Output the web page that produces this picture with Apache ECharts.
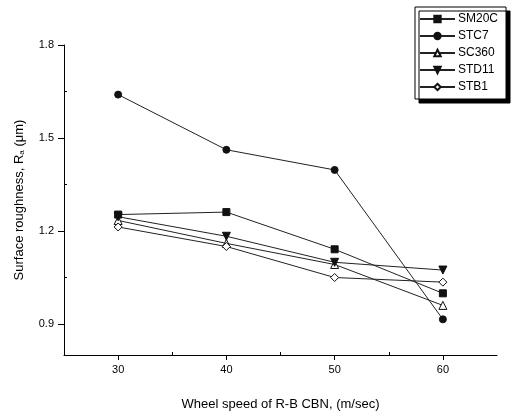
<!DOCTYPE html>
<html>
<head>
<meta charset="utf-8">
<script src="https://cdn.jsdelivr.net/npm/echarts@6/dist/echarts.min.js"></script>
<style>html,body{margin:0;padding:0;background:#fff}#c{width:511px;height:416px}</style>
</head>
<body>
<div id="c"></div>
<script>
var speeds = [30, 40, 50, 60];
var sm20c = [1.253, 1.261, 1.141, 0.999];
var stc7  = [1.640, 1.462, 1.397, 0.915];
var sc360 = [1.234, 1.160, 1.092, 0.960];
var std11 = [1.246, 1.183, 1.099, 1.074];
var stb1  = [1.213, 1.150, 1.050, 1.035];
var seriesNames = ['SM20C', 'STC7', 'SC360', 'STD11', 'STB1'];
var xLabels = [30, 40, 50, 60];
var xMinor = [35, 45, 55];
var yLabels = [0.9, 1.2, 1.5, 1.8];
var yMinor = [1.05, 1.35, 1.65];

function pairs(v) { return speeds.map(function (s, i) { return [s, v[i]]; }); }
var FONT = 'Liberation Sans, Arial, sans-serif';
var invTri = 'path://M0,0 L10,0 L5,9 Z';
var defs = [
  {name: seriesNames[0], data: sm20c, symbol: 'rect', fill: '#111', size: 7},
  {name: seriesNames[1], data: stc7, symbol: 'circle', fill: '#111', size: 7},
  {name: seriesNames[2], data: sc360, symbol: 'triangle', fill: '#fff', size: 8},
  {name: seriesNames[3], data: std11, symbol: invTri, fill: '#111', size: 8},
  {name: seriesNames[4], data: stb1, symbol: 'diamond', fill: '#fff', size: 8}
];
var series = defs.map(function (d) {
  return {
    name: d.name, type: 'line', data: pairs(d.data),
    symbol: d.symbol, symbolSize: d.size,
    lineStyle: {color: '#222', width: 1},
    itemStyle: {color: d.fill, borderColor: '#111', borderWidth: 1},
    xAxisIndex: 0, yAxisIndex: 0, animation: false
  };
});

var chart = echarts.init(document.getElementById('c'));
chart.setOption({
  backgroundColor: '#fff',
  animation: false,
  textStyle: {fontFamily: FONT},
  grid: {left: 64, right: 14, top: 45, bottom: 58},
  legend: {
    orient: 'vertical', left: 415, top: 7,
    data: seriesNames,
    itemWidth: 35, itemHeight: 8, itemGap: 5,
    padding: [6, 8, 6, 4],
    backgroundColor: '#fff', borderColor: '#000', borderWidth: 1,
    shadowColor: '#000', shadowBlur: 0, shadowOffsetX: 4, shadowOffsetY: 4,
    textStyle: {fontSize: 12, color: '#000', fontFamily: FONT, padding: [0, 0, 0, -2]}
  },
  xAxis: [{
    type: 'value', min: 25, max: 65,
    axisLine: {lineStyle: {color: '#000', width: 1}},
    axisTick: {show: true, customValues: xLabels, length: 5, lineStyle: {color: '#000'}},
    axisLabel: {customValues: xLabels, color: '#000', fontSize: 11, margin: 9, fontFamily: FONT},
    splitLine: {show: false},
    name: 'Wheel speed of R-B CBN, (m/sec)', nameLocation: 'middle', nameGap: 43,
    nameTextStyle: {fontSize: 13, color: '#000', fontFamily: FONT}
  }, {
    type: 'value', min: 25, max: 65, position: 'bottom',
    axisLine: {show: false},
    axisTick: {show: true, inside: true, customValues: xMinor, length: 3, lineStyle: {color: '#000'}},
    axisLabel: {show: false}, splitLine: {show: false}
  }],
  yAxis: [{
    type: 'value', min: 0.8, max: 1.8,
    axisLine: {show: true, lineStyle: {color: '#000', width: 1}},
    axisTick: {show: true, customValues: yLabels, length: 6, lineStyle: {color: '#000'}},
    axisLabel: {customValues: yLabels, color: '#000', fontSize: 11, margin: 10, fontFamily: FONT,
      formatter: function (v) { return v.toFixed(1); }},
    splitLine: {show: false},
    name: 'Surface roughness, R{sub|a} (\u03bcm)', nameLocation: 'middle', nameGap: 38,
    nameTextStyle: {fontSize: 13, color: '#000', fontFamily: FONT,
      rich: {sub: {fontSize: 8, color: '#000', verticalAlign: 'bottom', padding: [6, 0, 0, 0], fontFamily: FONT}}}
  }, {
    type: 'value', min: 0.8, max: 1.8, position: 'left',
    axisLine: {show: false},
    axisTick: {show: true, inside: true, customValues: yMinor, length: 3, lineStyle: {color: '#000'}},
    axisLabel: {show: false}, splitLine: {show: false}
  }],
  series: series
});
</script>
</body>
</html>
